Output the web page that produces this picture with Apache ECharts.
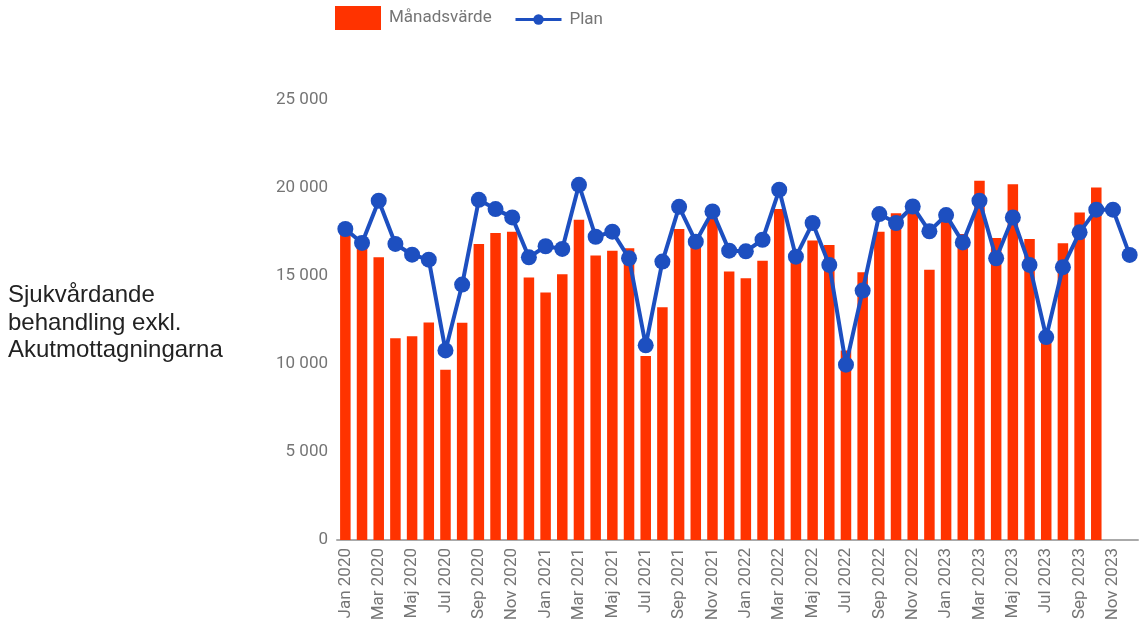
<!DOCTYPE html>
<html>
<head>
<meta charset="utf-8">
<script src="https://cdn.jsdelivr.net/npm/echarts@6/dist/echarts.min.js"></script>
<style>
  html, body { margin: 0; padding: 0; background: #fff; }
  #chart { width: 1140px; height: 628px; }
</style>
</head>
<body>
<div id="chart"></div>
<script>
var years = ['2020', '2021', '2022', '2023'];
var monthNames = ['Jan', 'Feb', 'Mar', 'Apr', 'Maj', 'Jun', 'Jul', 'Aug', 'Sep', 'Okt', 'Nov', 'Dec'];
var months = [];
years.forEach(function (y) {
  monthNames.forEach(function (m) { months.push(m + ' ' + y); });
});

var manadsvarde = [
  17480, 16900, 16060, 11470, 11580, 12360, 9680, 12340, 16820, 17440, 17520, 14910,
  14060, 15100, 18200, 16160, 16440, 16570, 10450, 13230, 17670, 17200, 18330, 15250,
  14870, 15870, 18800, 16060, 17010, 16760, 10770, 15210, 17520, 18560, 18700, 15350,
  18240, 17390, 20410, 17160, 20220, 17100, 11200, 16860, 18610, 20030, null, null
];

var plan = [
  17670, 16880, 19280, 16820, 16210, 15930, 10770, 14510, 19330, 18800, 18330, 16060,
  16690, 16540, 20180, 17230, 17520, 16010, 11060, 15820, 18930, 16950, 18670, 16440,
  16400, 17060, 19900, 16100, 18010, 15630, 9960, 14170, 18520, 18010, 18950, 17540,
  18460, 16910, 19280, 16010, 18330, 15630, 11530, 15500, 17480, 18770, 18770, 16200
];

var yTicks = [0, 5000, 10000, 15000, 20000, 25000];

var chart = echarts.init(document.getElementById('chart'));
var gray = '#757575';

var option = {
  backgroundColor: '#fff',
  animation: false,
  title: {
    text: 'Sjukvårdande\nbehandling exkl.\nAkutmottagningarna',
    left: 8,
    top: 282,
    padding: 0,
    textStyle: {
      fontFamily: 'Liberation Sans, Arial',
      fontWeight: 'normal',
      fontSize: 24,
      lineHeight: 27.5,
      color: '#222'
    }
  },
  legend: [
    {
      data: [{ name: 'Månadsvärde', icon: 'rect' }],
      left: 335,
      top: 6,
      padding: 0,
      itemWidth: 46,
      itemHeight: 24,
      textStyle: { fontFamily: 'Roboto', fontSize: 17, color: gray, padding: [2, 0, 0, 3] }
    },
    {
      data: ['Plan'],
      left: 514,
      top: 11,
      padding: 0,
      itemWidth: 46,
      itemHeight: 13,
      lineStyle: { width: 3 },
      textStyle: { fontFamily: 'Roboto', fontSize: 17, color: gray, padding: [2, 0, 0, 3] }
    }
  ],
  grid: {
    left: 337,
    right: 2,
    top: 100,
    bottom: 88
  },
  xAxis: {
    type: 'category',
    data: months,
    boundaryGap: true,
    axisTick: { show: false },
    axisLine: { lineStyle: { color: '#aaa', width: 2 } },
    axisLabel: {
      interval: 1,
      rotate: 90,
      margin: 8,
      fontFamily: 'Roboto',
      fontSize: 17,
      color: gray
    }
  },
  yAxis: {
    type: 'value',
    min: yTicks[0],
    max: yTicks[yTicks.length - 1],
    interval: 5000,
    splitLine: { show: false },
    axisLine: { show: false },
    axisTick: { show: false },
    axisLabel: {
      margin: 9,
      fontFamily: 'Roboto',
      fontSize: 17,
      color: gray,
      formatter: function (v) {
        return String(v).replace(/\B(?=(\d{3})+(?!\d))/g, ' ');
      }
    }
  },
  series: [
    {
      name: 'Månadsvärde',
      type: 'bar',
      data: manadsvarde,
      barCategoryGap: '37%',
      itemStyle: { color: '#ff3300' }
    },
    {
      name: 'Plan',
      type: 'line',
      data: plan,
      symbol: 'circle',
      symbolSize: 16,
      showAllSymbol: true,
      lineStyle: { width: 4, color: '#1d4fc0' },
      itemStyle: { color: '#1d4fc0' },
      z: 5
    }
  ]
};

chart.setOption(option);
</script>
</body>
</html>
